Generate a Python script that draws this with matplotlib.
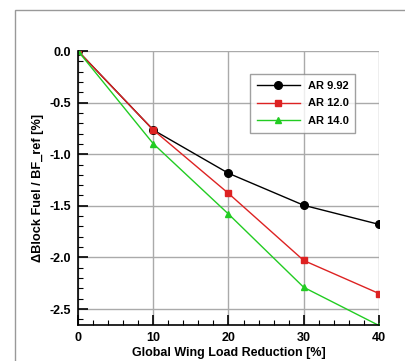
import matplotlib
matplotlib.use("Agg")
import matplotlib.pyplot as plt
from matplotlib.patches import Rectangle
from matplotlib.ticker import MultipleLocator

plt.rcParams['font.family'] = ['Liberation Sans', 'DejaVu Sans']

# data
load_red = [0, 10, 20, 30, 40]
ar992 = [0.0, -0.765, -1.185, -1.495, -1.68]
ar120 = [0.0, -0.765, -1.38, -2.03, -2.35]
ar140 = [0.0, -0.898, -1.58, -2.29, -2.66]
labels = ['AR 9.92', 'AR 12.0', 'AR 14.0']

fig = plt.figure(figsize=(4.06, 3.61), dpi=100)
W, H = 406, 361
# outer frame (extends past the right/bottom edges)
fig.patches.append(Rectangle((15 / W, -0.1), 1.2, 1.1 - 10 / H,
                             transform=fig.transFigure, fill=False,
                             edgecolor='#999999', lw=1.0))

ax = fig.add_axes([78 / W, 1 - 325 / H, (379 - 78) / W, (325 - 51) / H])

ax.plot(load_red, ar992, color='black', marker='o', ms=5.5, lw=1.0, label=labels[0])
ax.plot(load_red, ar120, color='#dd2222', marker='s', ms=4.3, lw=1.0, label=labels[1])
ax.plot(load_red, ar140, color='#22cc22', marker='^', ms=4.5, lw=1.0, label=labels[2])

ax.set_xlim(0, 40)
ax.set_ylim(-2.655, 0)
ax.xaxis.set_major_locator(MultipleLocator(10))
ax.xaxis.set_minor_locator(MultipleLocator(2))
ax.yaxis.set_minor_locator(MultipleLocator(0.1))
ax.set_yticks([0, -0.5, -1.0, -1.5, -2.0, -2.5])
ax.set_yticklabels(['0.0', '-0.5', '-1.0', '-1.5', '-2.0', '-2.5'])
ax.grid(True, which='major', color='#aaaaaa', lw=1.0)
ax.set_axisbelow(True)

for s in ['top', 'right']:
    ax.spines[s].set_visible(False)
for s in ['left', 'bottom']:
    ax.spines[s].set_linewidth(1.2)

ax.tick_params(which='major', direction='in', length=7, width=1.2, labelsize=9, pad=5)
ax.tick_params(which='minor', direction='in', length=3.5, width=0.8)
for t in ax.get_xticklabels() + ax.get_yticklabels():
    t.set_fontweight('bold')

ax.set_xlabel('Global Wing Load Reduction [%]', fontsize=9, fontweight='bold', labelpad=2)
ax.set_ylabel('\u0394Block Fuel / BF_ref [%]', fontsize=9.2, fontweight='bold', labelpad=4)

leg = ax.legend(loc='upper left', bbox_to_anchor=((250 - 78) / 301, 1 - (74 - 51) / 274),
                prop={'weight': 'bold', 'size': 8}, frameon=True,
                fancybox=False, edgecolor='#888888', handlelength=3.9,
                borderpad=0.6, labelspacing=0.7, handletextpad=0.7, borderaxespad=0)
leg.get_frame().set_linewidth(1.0)

fig.savefig('out.png', dpi=100)
